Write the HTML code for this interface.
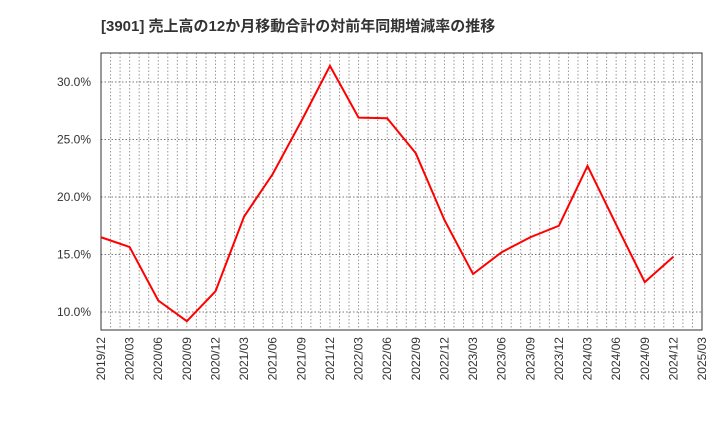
<!DOCTYPE html>
<html><head><meta charset="utf-8"><style>
body{margin:0;background:#fff;width:720px;height:440px;overflow:hidden}
svg{font-family:"Liberation Sans","Noto Sans CJK JP",sans-serif}
</style></head><body>
<svg id="c" width="720" height="440">
<text x="101" y="31" font-size="15" font-weight="bold" fill="#333">[3901]  売上高の12か月移動合計の対前年同期増減率の推移</text>
<g id="grid"></g><g id="axes"></g>
<rect x="101" y="53" width="601" height="277" fill="none" stroke="#333" stroke-width="1"/>
</svg>
<script>
const categories=["2019/12","2020/03","2020/06","2020/09","2020/12","2021/03","2021/06","2021/09","2021/12","2022/03","2022/06","2022/09","2022/12","2023/03","2023/06","2023/09","2023/12","2024/03","2024/06","2024/09","2024/12","2025/03"];
const values=[16.5,15.65,11.0,9.2,11.8,18.3,22.0,26.6,31.4,26.9,26.85,23.8,18.0,13.3,15.2,16.5,17.5,22.7,17.6,12.6,14.8];
const yTicks=[10,15,20,25,30];
const ns="http://www.w3.org/2000/svg",svg=document.getElementById('c');
const L=101,R=702,T=53,B=330;
const xs=i=>L+i*(R-L)/(categories.length-1);
const ys=v=>312-(v-10)*11.5;
const g=document.getElementById('grid'),ax=document.getElementById('axes');
function mk(tag,at,parent){const e=document.createElementNS(ns,tag);for(const k in at)e.setAttribute(k,at[k]);(parent||svg).appendChild(e);return e;}
for(let m=1;m<(categories.length-1)*3;m++){const x=L+m*(R-L)/((categories.length-1)*3);
const l=mk('line',{x1:x,x2:x,y1:T,y2:B,stroke:'#999','stroke-dasharray':'1.5,2','stroke-width':1},g);

}
yTicks.forEach(v=>{const y=ys(v);
const l=mk('line',{x1:L,x2:R,y1:y,y2:y,stroke:'#777','stroke-dasharray':'1.5,2','stroke-width':1},g);


const t=mk('text',{x:91,y:y+4,'text-anchor':'end','font-size':12,fill:'#333'},ax);t.textContent=v.toFixed(1)+'%';

});
categories.forEach((c,i)=>{const x=xs(i);
const t=mk('text',{x:x+4,y:337,'text-anchor':'end','font-size':12,fill:'#333',transform:`rotate(-90 ${x+4} 337)`},ax);t.textContent=c;

});
const p=mk('polyline',{points:values.map((v,i)=>xs(i)+','+ys(v)).join(' '),fill:'none',stroke:'#f00','stroke-width':2});


</script>
</body></html>
